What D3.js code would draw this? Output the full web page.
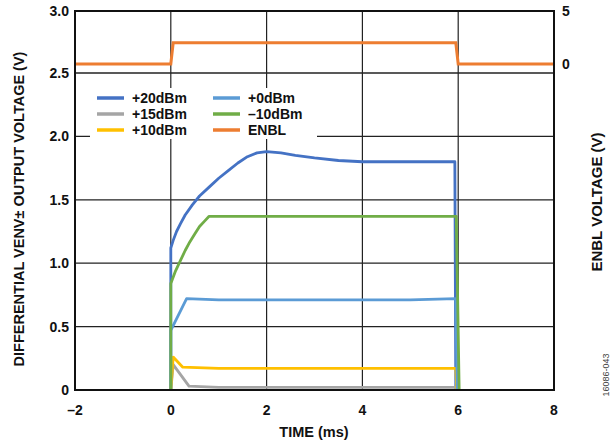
<!DOCTYPE html>
<meta charset="utf-8">
<style>
  body { margin: 0; background: #fff; }
  text { font-family: "Liberation Sans", Arial, sans-serif; }
  .tick-label { font-size: 14px; font-weight: bold; fill: #111; }
  .axis-title { font-size: 14.5px; font-weight: bold; fill: #111; }
  .legend-label { font-size: 14px; font-weight: bold; fill: #111; }
</style>
<body>
<script src="https://d3js.org/d3.v7.min.js"></script>
<script>

// time (ms) / voltage (V) traces
var t20 = [0, 0, 0.05, 0.12, 0.2, 0.3, 0.45, 0.6, 0.8, 1.0, 1.2, 1.4, 1.6, 1.8, 2.0, 2.3, 2.6, 3.0, 3.5, 4.0, 5.0, 5.93, 5.95]
var v20 = [0, 1.12, 1.18, 1.25, 1.31, 1.38, 1.46, 1.53, 1.60, 1.67, 1.73, 1.79, 1.84, 1.87, 1.88, 1.87, 1.85, 1.83, 1.81, 1.80, 1.80, 1.80, 0]

var t15 = [0, 0.05, 0.38, 1.0, 3.0, 5.0, 5.95, 5.97]
var v15 = [0, 0.20, 0.03, 0.02, 0.02, 0.02, 0.02, 0]

var t10 = [0, 0.05, 0.25, 1.0, 3.0, 5.0, 5.95, 5.97]
var v10 = [0, 0.26, 0.18, 0.17, 0.17, 0.17, 0.17, 0]

var t0 = [0, 0, 0.33, 1.0, 3.0, 5.0, 5.95, 5.98]
var v0 = [0, 0.47, 0.72, 0.71, 0.71, 0.71, 0.72, 0]

var tm10 = [0, 0, 0.1, 0.2, 0.3, 0.4, 0.5, 0.6, 0.7, 0.8, 1.5, 3.0, 5.0, 5.96, 6.02]
var vm10 = [0, 0.84, 0.94, 1.02, 1.10, 1.17, 1.23, 1.29, 1.33, 1.37, 1.37, 1.37, 1.37, 1.37, 0]

var tEnbl = [-2, 0, 0.05, 5.95, 6.0, 8]
var vEnbl = [0, 0, 2.0, 2.0, 0, 0]

var seriesNames = ["+20dBm", "+15dBm", "+10dBm", "+0dBm", "\u201310dBm", "ENBL"]
var seriesColors = ["#4472C4", "#A5A5A5", "#FFC000", "#5B9BD5", "#70AD47", "#ED7D31"]

var xTicks = [-2, 0, 2, 4, 6, 8]
var yTicks = [0, 0.5, 1.0, 1.5, 2.0, 2.5, 3.0]
var y2Ticks = [0, 5]

var W = 613, H = 446
// note: "top" is taken by window.top, hence the p prefix
var pLeft = 75, pRight = 554, pTop = 11, pBottom = 390

var svg = d3.select("body").append("svg")
    .attr("width", W)
    .attr("height", H)

var x = d3.scaleLinear().domain([-2, 8]).range([pLeft, pRight])
// top strip (2.5 - 3.0) is slightly squeezed in the original
var y = d3.scaleLinear().domain([0, 2.5, 3.0]).range([pBottom, 73, pTop])
var y2 = d3.scaleLinear().domain([0, 5]).range([64, pTop])

// grid
svg.append("g").selectAll("line")
    .data(yTicks.filter(d => d > 0 && d < 3))
    .enter().append("line")
    .attr("x1", pLeft).attr("x2", pRight)
    .attr("y1", d => y(d)).attr("y2", d => y(d))
    .attr("stroke", "#222").attr("stroke-width", d => d == 2.5 ? 1.6 : 1.2)

svg.append("g").selectAll("line")
    .data(xTicks.filter(d => d > -2 && d < 8))
    .enter().append("line")
    .attr("x1", d => x(d)).attr("x2", d => x(d))
    .attr("y1", pTop).attr("y2", pBottom)
    .attr("stroke", "#222").attr("stroke-width", 1.2)

// legend box hides grid behind it
svg.append("rect")
    .attr("x", 90).attr("y", 88).attr("width", 227).attr("height", 51)
    .attr("fill", "#fff")

function makeData(ts, vs) {
  return ts.map((t, i) => [t, vs[i]])
}

var line = d3.line().x(d => x(d[0])).y(d => y(d[1]))
var line2 = d3.line().x(d => x(d[0])).y(d => y2(d[1]))

svg.append("path")
    .attr("d", line2(makeData(tEnbl, vEnbl)))
    .attr("fill", "none").attr("stroke", seriesColors[5]).attr("stroke-width", 3)

var traces = [[t20, v20], [t15, v15], [t10, v10], [t0, v0], [tm10, vm10]]
traces.forEach(function(tr, i) {
  svg.append("path")
      .attr("d", line(makeData(tr[0], tr[1])))
      .attr("fill", "none")
      .attr("stroke", seriesColors[i])
      .attr("stroke-width", 2.8)
      .attr("stroke-linejoin", "round")
})

// frame
svg.append("rect")
    .attr("x", pLeft).attr("y", pTop)
    .attr("width", pRight - pLeft).attr("height", pBottom - pTop)
    .attr("fill", "none").attr("stroke", "#111").attr("stroke-width", 2)

// tick labels
svg.append("g").selectAll("text")
    .data(yTicks).enter().append("text")
    .attr("class", "tick-label")
    .attr("x", pLeft - 6).attr("y", d => y(d) + 5)
    .attr("text-anchor", "end")
    .text(d => d == 0 ? "0" : d.toFixed(1))

svg.append("g").selectAll("text")
    .data(xTicks).enter().append("text")
    .attr("class", "tick-label")
    .attr("x", d => x(d)).attr("y", 415)
    .attr("text-anchor", "middle")
    .text(d => d < 0 ? "\u2013" + Math.abs(d) : d)

svg.append("g").selectAll("text")
    .data(y2Ticks).enter().append("text")
    .attr("class", "tick-label")
    .attr("x", pRight + 8).attr("y", d => y2(d) + 5)
    .text(d => d)

// axis titles
svg.append("text")
    .attr("class", "axis-title")
    .attr("x", 314).attr("y", 437)
    .attr("text-anchor", "middle")
    .text("TIME (ms)")

svg.append("text")
    .attr("class", "axis-title")
    .attr("transform", "translate(24,209) rotate(-90)")
    .attr("text-anchor", "middle")
    .text("DIFFERENTIAL VENV\u00b1 OUTPUT VOLTAGE (V)")

svg.append("text")
    .attr("class", "axis-title")
    .attr("transform", "translate(602,202) rotate(-90)")
    .attr("text-anchor", "middle")
    .style("font-size", "15px")
    .text("ENBL VOLTAGE (V)")

svg.append("text")
    .attr("transform", "translate(609,375) rotate(-90)")
    .attr("text-anchor", "middle")
    .attr("font-size", "9px")
    .attr("fill", "#444")
    .text("16086-043")

// legend
var legend = svg.append("g").selectAll("g")
    .data(seriesNames).enter().append("g")
    .attr("transform", (d, i) => "translate(" + (i < 3 ? 97 : 213) + "," + (98 + (i % 3) * 16) + ")")

legend.append("line")
    .attr("x1", 0).attr("x2", 27).attr("y1", 0).attr("y2", 0)
    .attr("stroke", (d, i) => seriesColors[i]).attr("stroke-width", 3.5)

legend.append("text")
    .attr("class", "legend-label")
    .attr("x", 35).attr("y", 5)
    .text(d => d)

</script>
</body>
